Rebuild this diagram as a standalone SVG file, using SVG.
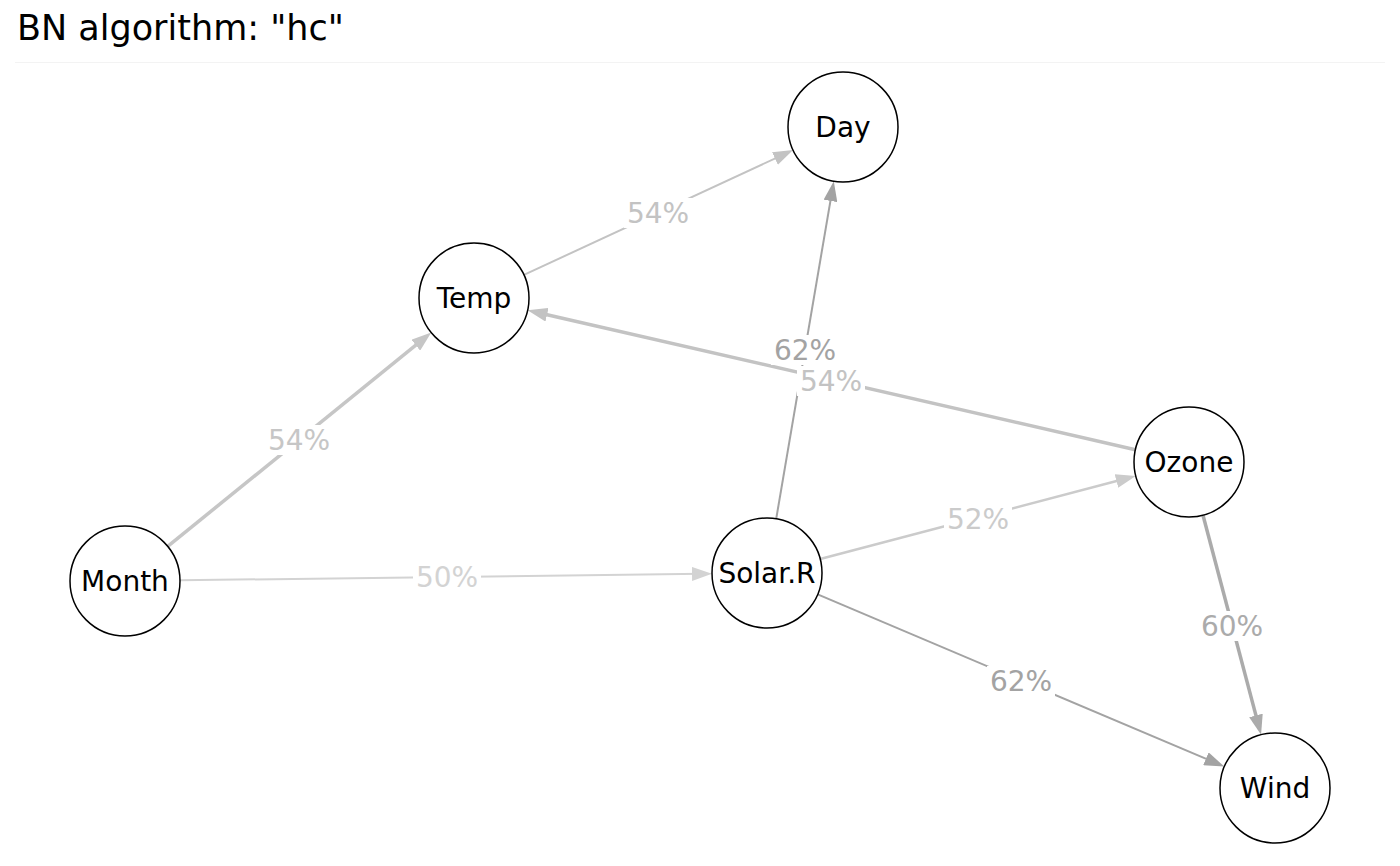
<svg xmlns="http://www.w3.org/2000/svg" width="1400" height="866" viewBox="0 0 1400 866">
<style>
  text { font-family: "DejaVu Sans", "Liberation Sans", sans-serif; }
  .title { font-size: 35px; fill: #000; }
  .node circle { fill: #fff; stroke: #000; stroke-width: 1.5; }
  .node text { font-size: 28px; fill: #000; text-anchor: middle; }
  .edge { fill: none; }
  .lbl rect { fill: #fff; }
  .lbl text { font-size: 28px; text-anchor: middle; }
</style>
<defs>
  <marker id="m-c3" markerUnits="userSpaceOnUse" markerWidth="20" markerHeight="14" refX="10" refY="7" orient="auto"><path d="M0,0 L20,7 L0,14 z" fill="#c3c3c3"/></marker>
  <marker id="m-a3" markerUnits="userSpaceOnUse" markerWidth="20" markerHeight="14" refX="10" refY="7" orient="auto"><path d="M0,0 L20,7 L0,14 z" fill="#a3a3a3"/></marker>
  <marker id="m-c6" markerUnits="userSpaceOnUse" markerWidth="20" markerHeight="14" refX="10" refY="7" orient="auto"><path d="M0,0 L20,7 L0,14 z" fill="#c6c6c6"/></marker>
  <marker id="m-d3" markerUnits="userSpaceOnUse" markerWidth="20" markerHeight="14" refX="10" refY="7" orient="auto"><path d="M0,0 L20,7 L0,14 z" fill="#d3d3d3"/></marker>
  <marker id="m-cb" markerUnits="userSpaceOnUse" markerWidth="20" markerHeight="14" refX="10" refY="7" orient="auto"><path d="M0,0 L20,7 L0,14 z" fill="#cbcbcb"/></marker>
  <marker id="m-ab" markerUnits="userSpaceOnUse" markerWidth="20" markerHeight="14" refX="10" refY="7" orient="auto"><path d="M0,0 L20,7 L0,14 z" fill="#ababab"/></marker>
</defs>
<rect x="0" y="0" width="1400" height="866" fill="#fff"/>
<text class="title" x="17" y="40">BN algorithm: "hc"</text>
<line x1="15" y1="62.5" x2="1385" y2="62.5" stroke="#f3f3f3" stroke-width="1"/>

<g id="connectors">
  <line class="edge" x1="523.9" y1="274.9" x2="784.0" y2="154.3" stroke="#c3c3c3" stroke-width="2" marker-end="url(#m-c3)"/>
  <line class="edge" x1="776.2" y1="518.8" x2="832.1" y2="191.1" stroke="#a3a3a3" stroke-width="2" marker-end="url(#m-a3)"/>
  <line class="edge" x1="1135.4" y1="449.7" x2="537.3" y2="312.5" stroke="#c3c3c3" stroke-width="3.5" marker-end="url(#m-c3)"/>
  <line class="edge" x1="167.7" y1="546.4" x2="423.5" y2="338.9" stroke="#c6c6c6" stroke-width="3.5" marker-end="url(#m-c6)"/>
  <line class="edge" x1="180" y1="580.3" x2="702" y2="573.8" stroke="#d3d3d3" stroke-width="2" marker-end="url(#m-d3)"/>
  <line class="edge" x1="820.2" y1="559" x2="1126.1" y2="478.5" stroke="#cbcbcb" stroke-width="2.5" marker-end="url(#m-cb)"/>
  <line class="edge" x1="817.7" y1="594.4" x2="1215.1" y2="762.7" stroke="#a3a3a3" stroke-width="2" marker-end="url(#m-a3)"/>
  <line class="edge" x1="1203" y1="515.2" x2="1258.5" y2="725.1" stroke="#ababab" stroke-width="3.5" marker-end="url(#m-ab)"/>

  <g class="lbl"><rect x="624" y="198" width="68" height="30"/><text x="658" y="223" fill="#c3c3c3">54%</text></g>
  <g class="lbl"><rect x="771" y="335" width="68" height="30"/><text x="805" y="360" fill="#a3a3a3">62%</text></g>
  <g class="lbl"><rect x="797" y="366" width="68" height="30"/><text x="831" y="391" fill="#c3c3c3">54%</text></g>
  <g class="lbl"><rect x="265" y="425" width="68" height="30"/><text x="299" y="450" fill="#c6c6c6">54%</text></g>
  <g class="lbl"><rect x="413" y="562" width="68" height="30"/><text x="447" y="587" fill="#d3d3d3">50%</text></g>
  <g class="lbl"><rect x="944" y="504" width="68" height="30"/><text x="978" y="529" fill="#cbcbcb">52%</text></g>
  <g class="lbl"><rect x="987" y="666" width="68" height="30"/><text x="1021" y="691" fill="#a3a3a3">62%</text></g>
  <g class="lbl"><rect x="1198" y="611" width="68" height="30"/><text x="1232" y="636" fill="#ababab">60%</text></g>
</g>

<g id="node-Day" class="node"><circle cx="843" cy="127" r="55"/><text x="843" y="137">Day</text></g>
<g id="node-Temp" class="node"><circle cx="474" cy="298" r="55"/><text x="474" y="308">Temp</text></g>
<g id="node-Month" class="node"><circle cx="125" cy="581" r="55"/><text x="125" y="591">Month</text></g>
<g id="node-Solar.R" class="node"><circle cx="767" cy="573" r="55"/><text x="767" y="583">Solar.R</text></g>
<g id="node-Ozone" class="node"><circle cx="1189" cy="462" r="55"/><text x="1189" y="472">Ozone</text></g>
<g id="node-Wind" class="node"><circle cx="1275" cy="788" r="55"/><text x="1275" y="798">Wind</text></g>
</svg>
